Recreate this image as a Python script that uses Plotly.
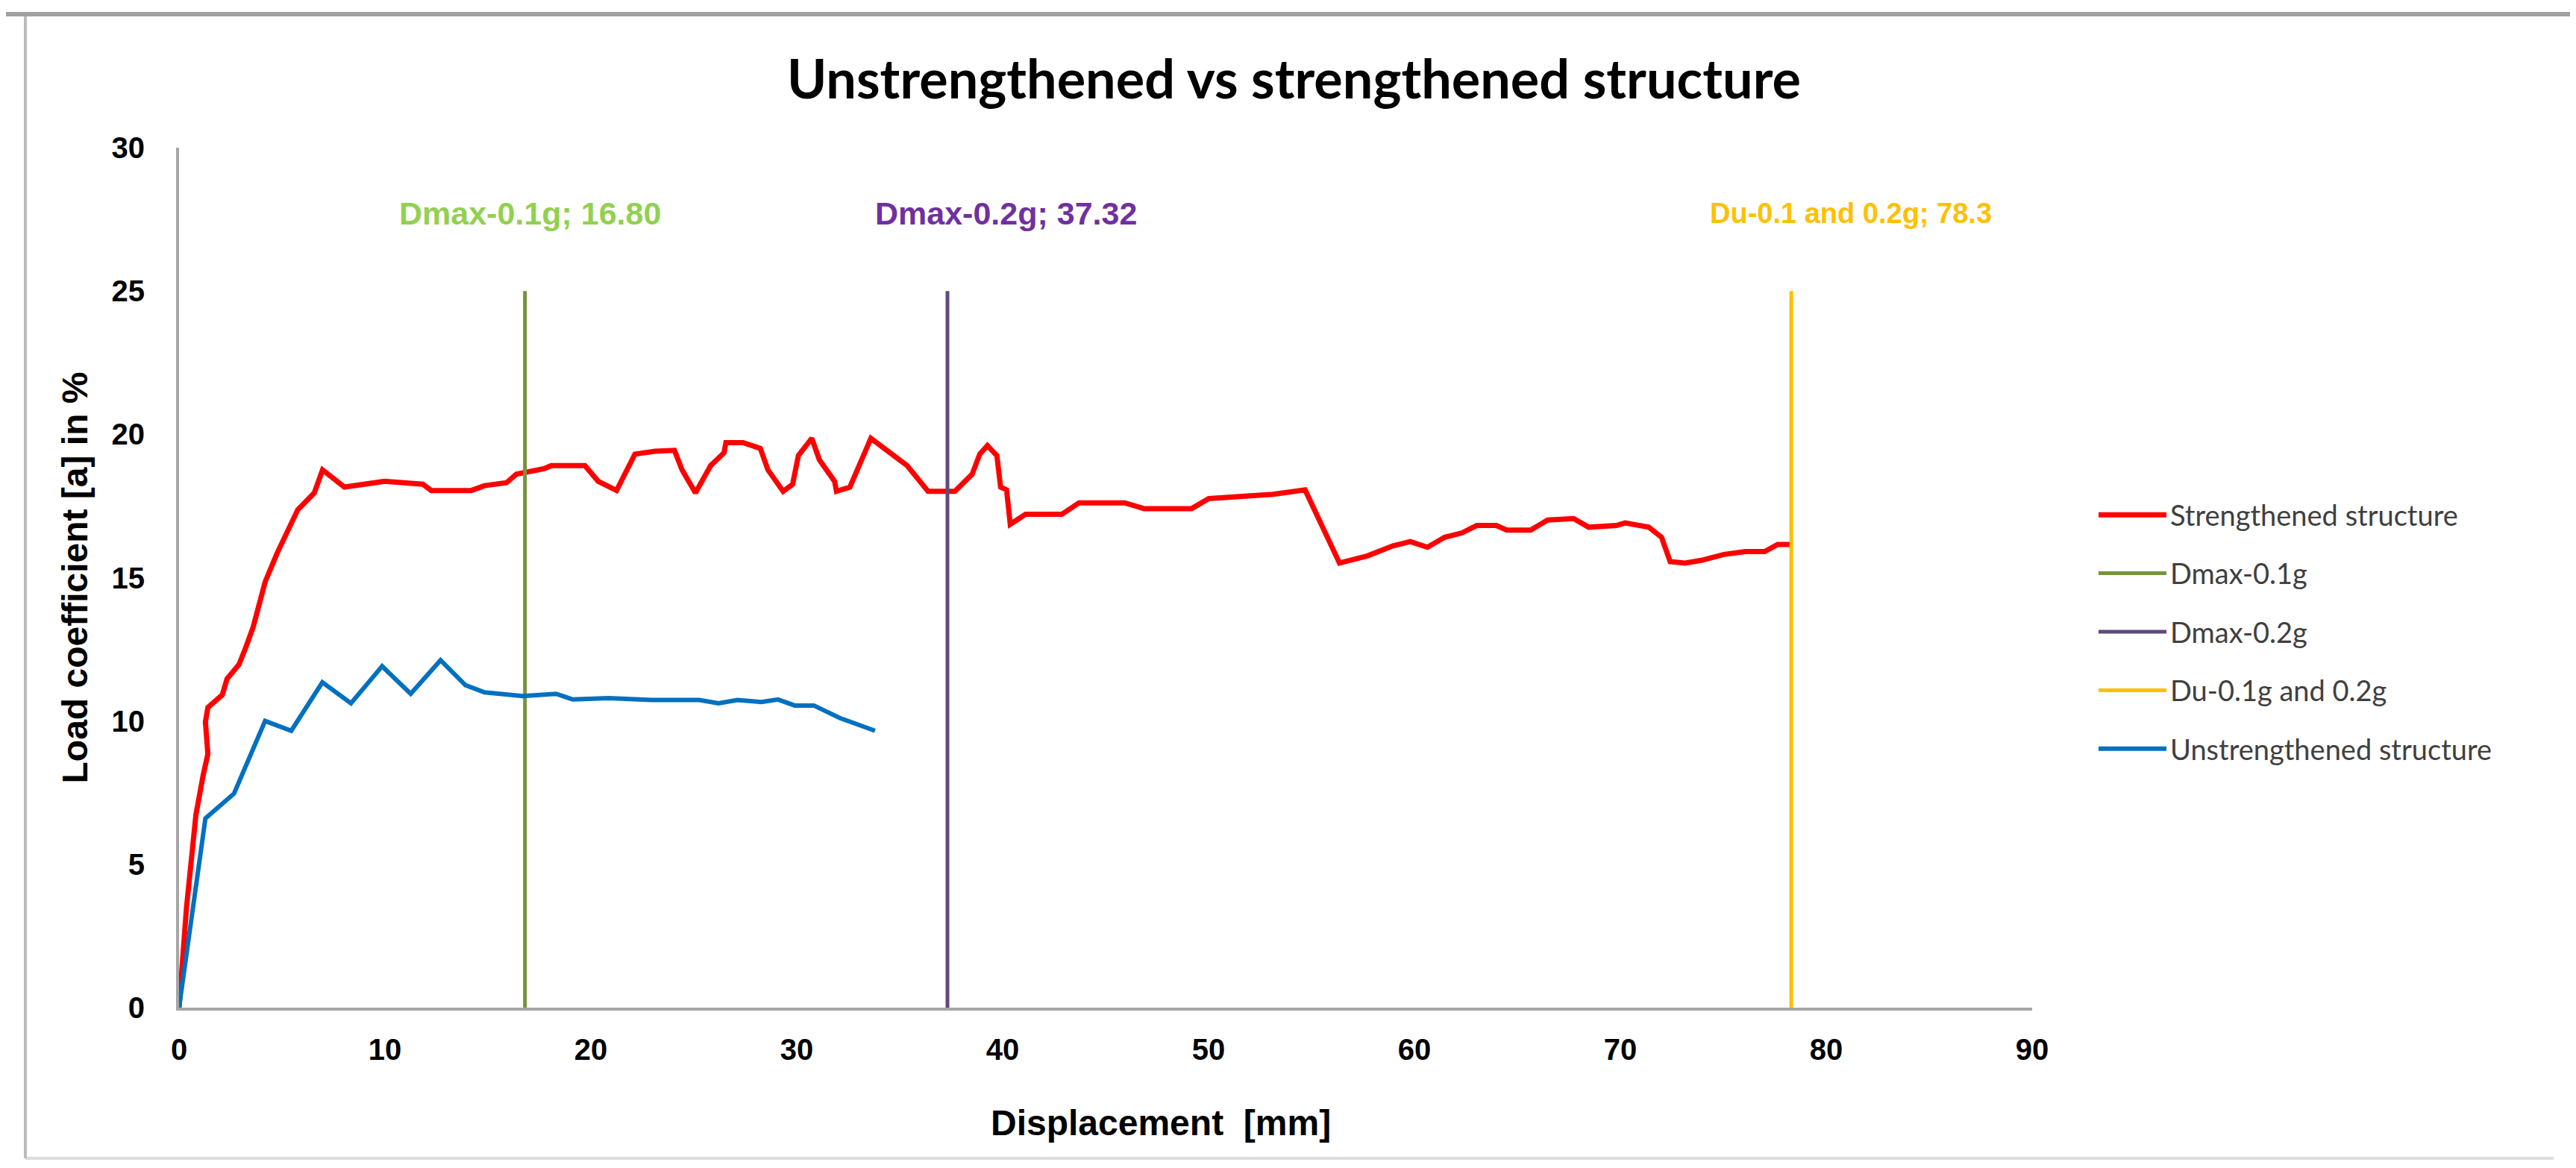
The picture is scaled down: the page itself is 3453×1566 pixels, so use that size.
import plotly.graph_objects as go

# ---------------- data ----------------
strengthened_x = [0, 0.36, 0.82, 1.05, 1.17, 1.40, 1.28, 1.40, 2.10, 2.33, 2.91, 3.26, 3.60, 4.18, 4.76,
                  5.76, 6.57, 6.97, 8.03, 9.97, 11.84, 12.25, 14.19, 14.84, 15.90, 16.38, 17.76, 18.08,
                  19.71, 20.36, 21.25, 22.14, 23.11, 24.06, 24.43, 25.08, 25.82, 26.47, 26.56, 27.39,
                  28.23, 28.60, 29.34, 29.80, 30.08, 30.73, 31.10, 31.84, 31.93, 32.58, 33.14, 33.60,
                  34.62, 35.36, 36.38, 37.68, 38.52, 38.89, 39.26, 39.72, 39.90, 40.19, 40.37, 41.11,
                  42.87, 43.71, 45.93, 46.86, 49.18, 50.01, 53.13, 54.69, 56.36, 57.71, 58.96, 59.80,
                  60.63, 61.47, 62.30, 63.03, 63.97, 64.49, 65.64, 66.47, 67.73, 68.46, 69.81, 70.23,
                  71.38, 72.00, 72.42, 73.15, 73.98, 75.03, 76.07, 77.01, 77.64, 78.30]
strengthened_y = [0, 3.48, 6.73, 7.73, 8.10, 8.85, 9.97, 10.47, 10.91, 11.47, 11.97, 12.60, 13.28, 14.85, 15.85,
                  17.36, 17.96, 18.76, 18.16, 18.36, 18.26, 18.04, 18.04, 18.21, 18.31, 18.61, 18.81, 18.91,
                  18.91, 18.36, 18.04, 19.31, 19.41, 19.44, 18.76, 17.96, 18.91, 19.36, 19.71, 19.71,
                  19.51, 18.76, 18.01, 18.26, 19.26, 19.86, 19.11, 18.36, 18.01, 18.16, 19.06, 19.86,
                  19.31, 18.91, 18.01, 18.01, 18.61, 19.31, 19.61, 19.26, 18.16, 18.06, 16.86, 17.21,
                  17.21, 17.61, 17.61, 17.41, 17.41, 17.76, 17.91, 18.06, 15.51, 15.76, 16.11, 16.26,
                  16.06, 16.41, 16.56, 16.82, 16.82, 16.66, 16.66, 17.01, 17.06, 16.76, 16.82, 16.91,
                  16.76, 16.41, 15.56, 15.51, 15.61, 15.81, 15.91, 15.91, 16.16, 16.16]

unstrengthened_x = [0, 1.28, 2.67, 4.18, 5.45, 6.96, 8.35, 9.86, 11.25, 12.70, 13.91, 14.84, 16.69, 18.31,
                    19.13, 20.86, 22.95, 25.27, 26.20, 27.12, 28.28, 29.09, 29.90, 30.83, 32.10, 32.92, 33.80]
unstrengthened_y = [0, 6.60, 7.47, 10.00, 9.66, 11.35, 10.62, 11.91, 10.95, 12.12, 11.25, 11.00, 10.87, 10.95,
                    10.75, 10.80, 10.73, 10.73, 10.62, 10.73, 10.66, 10.75, 10.54, 10.54, 10.10, 9.90, 9.66]

limit_names = ["Dmax-0.1g", "Dmax-0.2g", "Du-0.1g and 0.2g"]
limit_values = [16.80, 37.32, 78.3]
limit_labels = ["Dmax-0.1g; 16.80", "Dmax-0.2g; 37.32", "Du-0.1 and 0.2g; 78.3"]
limit_top = 25
label_level = 27.7

x_ticks = [0, 10, 20, 30, 40, 50, 60, 70, 80, 90]
y_ticks = [0, 5, 10, 15, 20, 25, 30]

# ---------------- styles ----------------
line_colors = ["#77933C", "#604A7B", "#FFC000"]
label_colors = ["#92D050", "#7030A0", "#FFC000"]
label_shifts = [7, 78, 80]
label_sizes = [43, 43, 38]

W, H = 3453, 1566
L, R, T, B = 232, 3453 - 2716, 190, 1566 - 1343
pw, ph = W - L - R, H - T - B

def px2paper_x(px):
    return (px - L) / pw

def px2paper_y(py):
    return (H - B - py) / ph

fig = go.Figure()
fig.add_trace(go.Scatter(x=strengthened_x, y=strengthened_y, mode="lines", name="Strengthened structure",
                         line=dict(color="#FF0000", width=7), legendgroup="g1"))
for i, (nm, v) in enumerate(zip(limit_names, limit_values)):
    fig.add_trace(go.Scatter(x=[v, v], y=[0, limit_top], mode="lines", name=nm,
                             line=dict(color=line_colors[i], width=5), legendgroup="g%d" % (i + 2)))
fig.add_trace(go.Scatter(x=unstrengthened_x, y=unstrengthened_y, mode="lines", name="Unstrengthened structure",
                         line=dict(color="#0070C0", width=6), legendgroup="g5"))

for i, v in enumerate(limit_values):
    fig.add_annotation(x=v, y=label_level, xref="x", yref="y", text=limit_labels[i], showarrow=False,
                       xshift=label_shifts[i], xanchor="center", yanchor="middle",
                       font=dict(family="Liberation Sans, Arial", size=label_sizes[i],
                                 color=label_colors[i], weight="bold"))

# x axis title
fig.add_annotation(x=px2paper_x(1548), y=px2paper_y(1497), xref="paper", yref="paper",
                   text="Displacement  [mm]", showarrow=False, xanchor="center", yanchor="middle",
                   font=dict(family="Liberation Sans, Arial", size=48, color="#000000", weight="bold"))

# chart border
fig.add_shape(type="line", xref="paper", yref="paper", x0=px2paper_x(26), x1=px2paper_x(3415),
              y0=px2paper_y(1545), y1=px2paper_y(1545), line=dict(color="#DDDDDD", width=4))
fig.add_shape(type="line", xref="paper", yref="paper", x0=px2paper_x(26), x1=px2paper_x(26),
              y0=px2paper_y(11), y1=px2paper_y(1545), line=dict(color="#BBBBBB", width=4))
fig.add_shape(type="line", xref="paper", yref="paper", x0=px2paper_x(0), x1=px2paper_x(3453),
              y0=px2paper_y(11), y1=px2paper_y(11), line=dict(color="#A0A0A0", width=6))

fig.update_layout(
    width=W, height=H,
    margin=dict(l=L, r=R, t=T, b=B, pad=0),
    paper_bgcolor="white", plot_bgcolor="white",
    title=dict(text="<b>Unstrengthened vs strengthened structure</b>", x=0.5, xref="container",
               y=1 - 99 / H, yref="container", xanchor="center", yanchor="middle",
               font=dict(family="Lato, Open Sans", size=72, color="#000000")),
    xaxis=dict(range=[0, 90], tickvals=x_ticks, showgrid=False, zeroline=False, showline=True,
               linecolor="#A6A6A6", linewidth=4, ticks="outside", ticklen=18, tickcolor="rgba(0,0,0,0)",
               tickfont=dict(family="Liberation Sans, Arial", size=40, color="#000000", weight="bold")),
    yaxis=dict(range=[0, 30], tickvals=y_ticks, showgrid=False, zeroline=False, showline=True,
               linecolor="#A6A6A6", linewidth=4, ticks="outside", ticklen=34, tickcolor="rgba(0,0,0,0)",
               tickfont=dict(family="Liberation Sans, Arial", size=40, color="#000000", weight="bold"),
               title=dict(text="Load coefficient [a] in %", standoff=18,
                          font=dict(family="Liberation Sans, Arial", size=48, color="#000000", weight="bold"))),
    legend=dict(x=px2paper_x(2800), y=px2paper_y(651), xanchor="left", yanchor="top",
                font=dict(family="Lato, Open Sans", size=38, color="#404040"),
                itemwidth=91, tracegroupgap=26, bgcolor="rgba(0,0,0,0)"),
    showlegend=True,
)

fig.write_html("out.html")
